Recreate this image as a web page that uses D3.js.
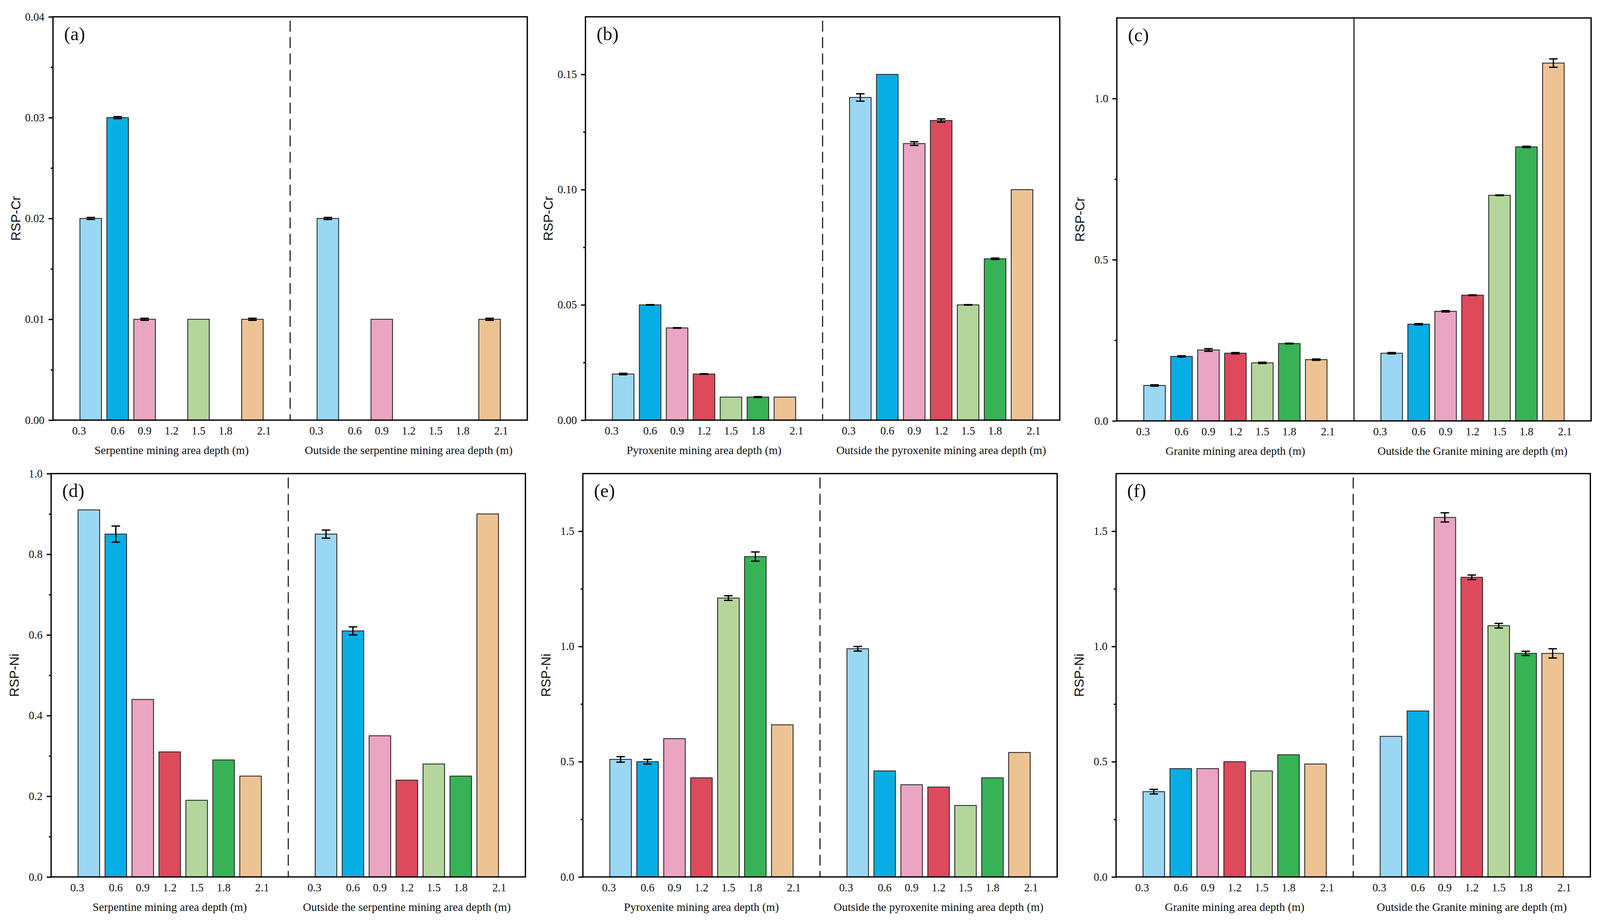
<!DOCTYPE html>
<html><head><meta charset="utf-8">
<script src="https://cdn.jsdelivr.net/npm/d3@7"></script>
<style>html,body{margin:0;padding:0;background:#fff;overflow:hidden}#chart{display:block}</style>
</head><body>
<svg id="chart" xmlns="http://www.w3.org/2000/svg"></svg>
<script>
// ---------- data ----------
const depths = ["0.3", "0.6", "0.9", "1.2", "1.5", "1.8", "2.1"];
const barColors = ["#9AD7F2", "#07AEE3", "#EAA5C2", "#DC4A5B", "#B4D69C", "#37B257", "#EEC394"];

// (a) RSP-Cr, serpentine
const crSerpIn = [0.02, 0.03, 0.01, 0, 0.01, 0, 0.01];
const crSerpInErr = [0.0001, 0.0001, 0.0001, null, null, null, 0.0001];
const crSerpOut = [0.02, 0, 0.01, 0, 0, 0, 0.01];
const crSerpOutErr = [0.0001, null, null, null, null, null, 0.0001];
// (b) RSP-Cr, pyroxenite
const crPyroIn = [0.02, 0.05, 0.04, 0.02, 0.01, 0.01, 0.01];
const crPyroInErr = [0.0003, 0.0001, 0.0001, 0.0001, null, 0.0002, null];
const crPyroOut = [0.14, 0.15, 0.12, 0.13, 0.05, 0.07, 0.10];
const crPyroOutErr = [0.0016, null, 0.0008, 0.0007, 0.0001, 0.0003, null];
// (c) RSP-Cr, granite
const crGranIn = [0.11, 0.20, 0.22, 0.21, 0.18, 0.24, 0.19];
const crGranInErr = [0.002, 0.002, 0.004, 0.002, 0.002, 0.001, 0.002];
const crGranOut = [0.21, 0.30, 0.34, 0.39, 0.70, 0.85, 1.11];
const crGranOutErr = [0.002, 0.002, 0.002, 0.001, 0.001, 0.002, 0.013];
// (d) RSP-Ni, serpentine
const niSerpIn = [0.91, 0.85, 0.44, 0.31, 0.19, 0.29, 0.25];
const niSerpInErr = [null, 0.02, null, null, null, null, null];
const niSerpOut = [0.85, 0.61, 0.35, 0.24, 0.28, 0.25, 0.90];
const niSerpOutErr = [0.01, 0.01, null, null, null, null, null];
// (e) RSP-Ni, pyroxenite
const niPyroIn = [0.51, 0.50, 0.60, 0.43, 1.21, 1.39, 0.66];
const niPyroInErr = [0.012, 0.01, null, null, 0.01, 0.02, null];
const niPyroOut = [0.99, 0.46, 0.40, 0.39, 0.31, 0.43, 0.54];
const niPyroOutErr = [0.01, null, null, null, null, null, null];
// (f) RSP-Ni, granite
const niGranIn = [0.37, 0.47, 0.47, 0.50, 0.46, 0.53, 0.49];
const niGranInErr = [0.01, null, null, null, null, null, null];
const niGranOut = [0.61, 0.72, 1.56, 1.30, 1.09, 0.97, 0.97];
const niGranOutErr = [null, null, 0.02, 0.01, 0.01, 0.009, 0.02];

// y-axis ticks
const ticksA = [0, 0.01, 0.02, 0.03, 0.04];
const ticksB = [0, 0.05, 0.10, 0.15];
const ticksC = [0, 0.5, 1.0];
const ticksD = [0, 0.2, 0.4, 0.6, 0.8, 1.0];
const ticksE = [0, 0.5, 1.0, 1.5];
const ticksF = [0, 0.5, 1.0, 1.5];

// ---------- layout (reference units 4318 x 2364, mapped onto the actual viewport) ----------
const REF_W = 4318, REF_H = 2364;
const VW = window.innerWidth || REF_W, VH = window.innerHeight || REF_H;
const sx = VW / REF_W, sy = VH / REF_H, sf = sx;
const X = v => v * sx, Y = v => v * sy, F = v => v * sf;

const W = 1280, H = 1033;
const panels = [
  {tag: "(a)", left: 143, top: 43, h: H, yMax: 0.04, ticks: ticksA, fmt: ".2f", yTitle: "RSP-Cr",
   inV: crSerpIn, inE: crSerpInErr, outV: crSerpOut, outE: crSerpOutErr,
   inLabel: "Serpentine mining area depth (m)", outLabel: "Outside the serpentine mining area depth (m)", solid: false},
  {tag: "(b)", left: 1580, top: 43, h: H, yMax: 0.175, ticks: ticksB, fmt: ".2f", yTitle: "RSP-Cr",
   inV: crPyroIn, inE: crPyroInErr, outV: crPyroOut, outE: crPyroOutErr,
   inLabel: "Pyroxenite mining area depth (m)", outLabel: "Outside the pyroxenite mining area depth (m)", solid: false},
  {tag: "(c)", left: 3014, top: 46, h: 1032, yMax: 1.25, ticks: ticksC, fmt: ".1f", yTitle: "RSP-Cr",
   inV: crGranIn, inE: crGranInErr, outV: crGranOut, outE: crGranOutErr,
   inLabel: "Granite mining area depth (m)", outLabel: "Outside the Granite mining are depth (m)", solid: true},
  {tag: "(d)", left: 138, top: 1213, h: H, yMax: 1.0, ticks: ticksD, fmt: ".1f", yTitle: "RSP-Ni",
   inV: niSerpIn, inE: niSerpInErr, outV: niSerpOut, outE: niSerpOutErr,
   inLabel: "Serpentine mining area depth (m)", outLabel: "Outside the serpentine mining area depth (m)", solid: false},
  {tag: "(e)", left: 1573, top: 1213, h: H, yMax: 1.75, ticks: ticksE, fmt: ".1f", yTitle: "RSP-Ni",
   inV: niPyroIn, inE: niPyroInErr, outV: niPyroOut, outE: niPyroOutErr,
   inLabel: "Pyroxenite mining area depth (m)", outLabel: "Outside the pyroxenite mining area depth (m)", solid: false},
  {tag: "(f)", left: 3012, top: 1213, h: H, yMax: 1.75, ticks: ticksF, fmt: ".1f", yTitle: "RSP-Ni",
   inV: niGranIn, inE: niGranInErr, outV: niGranOut, outE: niGranOutErr,
   inLabel: "Granite mining area depth (m)", outLabel: "Outside the Granite mining are depth (m)", solid: false}
];

const SERIF = "'Liberation Serif','Times New Roman',serif";
const SANS = "'Liberation Sans',Arial,sans-serif";
const svg = d3.select("#chart").attr("width", VW).attr("height", VH);
const LW = F(3.5);

panels.forEach(p => {
  const g = svg.append("g");
  const x0 = X(p.left), x1 = X(p.left + W), mid = X(p.left + W / 2);
  const yTop = Y(p.top), yBot = Y(p.top + p.h);
  const y = d3.scaleLinear().domain([0, p.yMax]).range([yBot, yTop]);

  const halves = [
    {scale: d3.scaleBand().domain(depths).range([x0, mid]).paddingInner(0.2).paddingOuter(1.0),
     vals: p.inV, errs: p.inE, label: p.inLabel},
    {scale: d3.scaleBand().domain(depths).range([mid, x1]).paddingInner(0.2).paddingOuter(1.0),
     vals: p.outV, errs: p.outE, label: p.outLabel}
  ];

  // divider
  g.append("line")
    .attr("x1", mid).attr("x2", mid)
    .attr("y1", p.solid ? yTop : yTop + Y(10)).attr("y2", yBot)
    .attr("stroke", "#1a1a1a").attr("stroke-width", F(3))
    .attr("stroke-dasharray", p.solid ? null : `${Y(28)},${Y(14)}`);

  halves.forEach(hf => {
    const xs = hf.scale;
    const data = depths.map((d, i) => ({d, i, v: hf.vals[i], e: hf.errs[i]}));
    // bars
    g.append("g").selectAll("rect").data(data.filter(o => o.v > 0)).join("rect")
      .attr("x", o => xs(o.d)).attr("width", xs.bandwidth())
      .attr("y", o => y(o.v)).attr("height", o => y(0) - y(o.v))
      .attr("fill", o => barColors[o.i])
      .attr("stroke", "#2e2e2e").attr("stroke-width", F(2.4));
    // error bars
    const eb = g.append("g").attr("stroke", "#000").attr("stroke-width", LW);
    const capW = X(23);
    data.filter(o => o.v > 0 && o.e != null).forEach(o => {
      const cx = xs(o.d) + xs.bandwidth() / 2;
      eb.append("line").attr("x1", cx).attr("x2", cx).attr("y1", y(o.v - o.e)).attr("y2", y(o.v + o.e));
      eb.append("line").attr("x1", cx - capW / 2).attr("x2", cx + capW / 2).attr("y1", y(o.v + o.e)).attr("y2", y(o.v + o.e));
      eb.append("line").attr("x1", cx - capW / 2).attr("x2", cx + capW / 2).attr("y1", y(o.v - o.e)).attr("y2", y(o.v - o.e));
    });
    // x axis labels (no tick marks)
    const ax = g.append("g").attr("transform", `translate(0,${yBot})`)
      .call(d3.axisBottom(xs).tickSize(0).tickPadding(Y(37) - F(30) * 0.71));
    ax.select(".domain").remove();
    ax.selectAll("text")
      .attr("font-family", SERIF).attr("font-size", F(30)).attr("fill", "#111")
      .attr("dx", (d, i) => i === 0 ? -0.43 * xs.step() : (i === depths.length - 1 ? 0.43 * xs.step() : 0));
    // x title
    g.append("text")
      .attr("x", (xs.range()[0] + xs.range()[1]) / 2).attr("y", yBot + Y(87))
      .attr("text-anchor", "middle").attr("font-family", SERIF).attr("font-size", F(31)).attr("fill", "#111")
      .text(hf.label);
  });

  // y axis: majors
  const ya = g.append("g").attr("transform", `translate(${x0},0)`)
    .call(d3.axisLeft(y).tickValues(p.ticks).tickFormat(d3.format(p.fmt)).tickSize(X(12)).tickPadding(X(11)).tickSizeOuter(0));
  ya.select(".domain").remove();
  ya.selectAll("line").attr("stroke", "#000").attr("stroke-width", LW);
  ya.selectAll("text").attr("font-family", SERIF).attr("font-size", F(30)).attr("fill", "#111");
  // y axis: minors
  const minors = d3.pairs(p.ticks).map(([a, b]) => (a + b) / 2);
  const ym = g.append("g").attr("transform", `translate(${x0},0)`)
    .call(d3.axisLeft(y).tickValues(minors).tickFormat("").tickSize(X(6)).tickSizeOuter(0));
  ym.select(".domain").remove();
  ym.selectAll("line").attr("stroke", "#000").attr("stroke-width", LW);

  // frame
  g.append("rect").attr("x", x0).attr("y", yTop).attr("width", x1 - x0).attr("height", yBot - yTop)
    .attr("fill", "none").attr("stroke", "#000").attr("stroke-width", LW);

  // y title
  g.append("text")
    .attr("transform", `translate(${x0 - X(100)},${(yTop + yBot) / 2}) rotate(-90)`)
    .attr("text-anchor", "middle").attr("dominant-baseline", "central")
    .attr("font-family", SANS).attr("font-size", F(35)).attr("fill", "#111")
    .text(p.yTitle);

  // panel tag
  g.append("text").attr("x", x0 + X(30)).attr("y", yTop + Y(60))
    .attr("font-family", SERIF).attr("font-size", F(51)).attr("fill", "#111")
    .text(p.tag);
});
</script>
</body></html>
